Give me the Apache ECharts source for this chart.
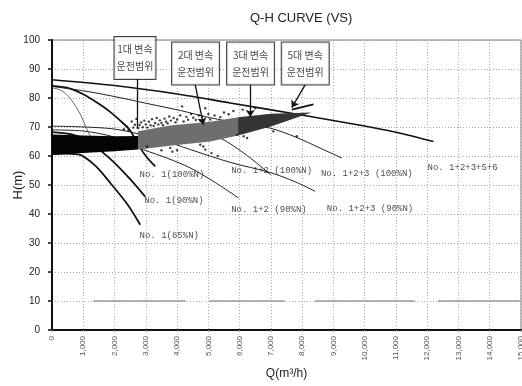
<!DOCTYPE html>
<html><head><meta charset="utf-8">
<script src="https://cdn.jsdelivr.net/npm/echarts@6/dist/echarts.min.js"></script>
<style>html,body{margin:0;padding:0;background:#fff}#c{width:522px;height:386px}</style>
</head><body><div id="c"></div>
<script>
// ---------------- data ----------------
const chartTitle = 'Q-H CURVE (VS)';
const xName = 'Q(m³/h)';
const yName = 'H(m)';

const curveMain      = [[0,86.3],[2000,84.3],[4000,81.4],[5700,78.3],[7940,74.2],[9860,70.6],[11000,68.2],[12200,65]];
const curveNo1_100   = [[0,84.2],[500,83.5],[1000,81.3],[1500,78],[1860,75.2],[2200,72],[2500,68.8],[2750,64],[3000,60],[3300,56.4]];
const curveNo1_90    = [[0,68.2],[600,67.5],[1100,65.5],[1650,61],[2000,57.6],[2500,52],[2980,46]];
const curveNo1_85    = [[0,61],[500,60.8],[900,60.4],[1400,56.5],[1865,50.7],[2400,43.5],[2820,36.3]];
const curveNo12_100  = [[4300,70.5],[5380,66.2],[6200,60.5],[7000,53.5]];
const curveNo12_90   = [[0,69],[1000,68.6],[2000,66.5],[2930,62.2],[3700,59.2],[4420,55.9],[5200,51],[5970,45.5]];
const curveNo123_100 = [[0,84],[1000,82.5],[2000,80.5],[3000,78.2],[4100,75.7],[5060,73.2],[6000,71.3],[6980,69.6],[7800,66.5],[8600,62.6],[9270,59.3]];
const curveNo123_90  = [[0,70.3],[2000,69.3],[3500,65.5],[4430,62.2],[5700,57.8],[6980,54.3],[7800,51],[8420,47.8]];
const curveExtra     = [[0,83.5],[300,82.6],[600,79.6],[900,74.5],[1170,68],[1400,64]];
const topEdge5       = [[7670,76],[8360,77.8]];

const band1 = [[0,60.3],[0,67.4],[1000,67.1],[2000,66.8],[2750,66.9],[2750,62.2],[2000,61.6],[1000,61],[0,60.3]];
const band2 = [[2750,62.2],[2750,68.5],[3780,70.5],[5060,71.8],[5950,73.4],[5950,67.1],[5060,65],[3780,63.5]];
const band3 = [[5950,67.1],[5950,73.4],[7000,74.6],[8300,75],[7000,70.2]];

const scatterPts = [
 [2300,69.2],[2400,70.1],[2450,68.9],[2550,71.9],[2600,69.8],[2650,70.8],[2700,72.8],[2750,69.6],[2800,70.7],
 [2850,71.6],[2900,69.9],[2950,72.2],[3000,70.9],[3050,69.8],[3100,71.8],[3150,70.6],[3200,72.7],[3250,70.4],
 [3300,71.4],[3350,73.1],[3400,70.9],[3450,72.3],[3500,71.4],[3550,70.6],[3600,72.9],[3650,71.8],[3700,71.2],
 [3750,73.6],[3800,72.2],[3890,73.1],[3950,71.6],[4000,72.6],[4100,74],[4160,77.1],[4210,71.9],[4300,73.5],
 [4350,72.5],[4450,74.5],[4520,73.2],[4600,72.4],[4700,74],[4740,72.2],[4800,73.5],[4900,76.5],[5000,74.5],
 [5060,72.6],[5200,74],[5380,73.4],[5500,75],[5650,74.4],[5800,75.5],[6100,76],[6500,76.5],
 [3040,63.3],[3500,62],[3780,62.8],[3850,61.5],[4000,62],[4740,63.9],[4840,63.3],[4900,62.2],[5100,61],
 [5920,67.3],[6130,66.8],[6240,66.2],[7080,68.5],[7830,66.8],[5300,60]
];

const curveLabelText = ['No. 1(100%N)','No. 1(90%N)','No. 1(85%N)','No. 1+2 (100%N)','No. 1+2 (90%N)',
                        'No. 1+2+3 (100%N)','No. 1+2+3 (90%N)','No. 1+2+3+5+6'];
const curveLabelPos  = [[2800,53.5],[2950,44.7],[2800,32.5],[5730,55.1],[5730,41.5],[8600,54],[8790,42],[12010,55.9]];

const boxLine1 = ['1대 변속','2대 변속','3대 변속','5대 변속'];
const boxLine2 = ['운전범위','운전범위','운전범위','운전범위'];
const boxPos   = [[2654,93.8],[4592,91.9],[6351,91.9],[8100,91.9]];
const arrowFrom = [[2730,86.7],[4580,84.6],[6340,84.6],[8100,84.6]];
const arrowTo   = [[2730,69.7],[4840,70.8],[6340,73.5],[7670,76.7]];
const arrowHead = [false,true,true,true];

const hSegments = [[1320,4270],[5030,7450],[8410,11600],[12340,14960]];
const hSegY = 10;

// ---------------- helpers ----------------
const bands = [band1, band2, band3];
const bandFills = ['#050505', '#6e6e6e', '#353535'];

function fmtThousands(v){ return String(v).replace(/\B(?=(\d{3})+(?!\d))/g, ','); }

function lineSeries(name, data, width, color, smooth){
  return { name, type:'line', data, symbol:'none', smooth: smooth === undefined ? 0.3 : smooth,
    lineStyle:{ width, color }, z: 2, silent: true };
}

const chart = echarts.init(document.getElementById('c'));
chart.setOption({
  animation: false,
  backgroundColor: '#fff',
  title: { text: chartTitle, left: 245, top: 7,
    textStyle: { fontFamily: 'Liberation Sans', fontSize: 13, fontWeight: 'normal', color: '#222' } },
  grid: { left: 52, right: 1, top: 40, bottom: 56, show: true, borderColor: '#777', borderWidth: 1,
    containLabel: false, outerBoundsMode: 'none' },
  xAxis: {
    type: 'value', min: 0, max: 15000, interval: 1000,
    name: xName, nameLocation: 'middle', nameGap: 38, nameMoveOverlap: false,
    nameTextStyle: { fontFamily: 'Liberation Sans', fontSize: 12, color: '#222' },
    axisLine: { lineStyle: { color: '#111', width: 2 } },
    axisTick: { show: true, length: 2, lineStyle: { color: '#999' } },
    axisLabel: { rotate: 90, margin: 6, fontSize: 8, color: '#555', fontFamily: 'Liberation Sans',
      formatter: fmtThousands, showMaxLabel: true },
    splitLine: { show: true, lineStyle: { type: [1, 2], color: '#aaa', width: 1 } }
  },
  yAxis: {
    type: 'value', min: 0, max: 100, interval: 10,
    name: yName, nameLocation: 'middle', nameGap: 27, nameMoveOverlap: false,
    nameTextStyle: { fontFamily: 'Liberation Sans', fontSize: 13, color: '#222' },
    axisLine: { show: true, lineStyle: { color: '#111', width: 2 } },
    axisTick: { show: true, length: 4, lineStyle: { color: '#111', width: 1.5 } },
    axisLabel: { fontSize: 10, color: '#222', margin: 12, fontFamily: 'Liberation Sans' },
    splitLine: { show: true, lineStyle: { type: [1, 2], color: '#aaa', width: 1 } }
  },
  series: [
    lineSeries('No.1+2+3+5+6', curveMain, 1.6, '#111'),
    lineSeries('No.1(100%N)', curveNo1_100, 1.8, '#111'),
    lineSeries('No.1(90%N)', curveNo1_90, 1.8, '#111'),
    lineSeries('No.1(85%N)', curveNo1_85, 1.8, '#111'),
    lineSeries('No.1+2(100%N)', curveNo12_100, 1, '#222'),
    lineSeries('No.1+2(90%N)', curveNo12_90, 1, '#222'),
    lineSeries('No.1+2+3(100%N)', curveNo123_100, 1, '#222'),
    lineSeries('No.1+2+3(90%N)', curveNo123_90, 1, '#222'),
    lineSeries('extra', curveExtra, 0.8, '#444'),
    Object.assign(lineSeries('top5', topEdge5, 2, '#111', false), { z: 6 }),
    {
      name: 'bands', type: 'custom', z: 3, silent: true,
      data: bands.map((b) => [b[0][0], b[0][1]]),
      renderItem: function(params, api){
        const pts = bands[params.dataIndex].map(p => api.coord(p));
        return { type: 'polygon', shape: { points: pts }, style: { fill: bandFills[params.dataIndex], stroke: null } };
      }
    },
    {
      name: 'measured', type: 'scatter', data: scatterPts, symbol: 'circle', symbolSize: 2.4,
      itemStyle: { color: '#111' }, z: 4, silent: true
    },
    {
      name: 'curveLabels', type: 'scatter', symbolSize: 0, z: 7, silent: true,
      data: curveLabelPos.map((p, i) => ({ value: p, label: { formatter: curveLabelText[i] } })),
      label: { show: true, position: 'right', distance: 0, fontFamily: 'Liberation Mono', fontSize: 9, color: '#222' }
    },
    {
      name: 'boxes', type: 'scatter', symbolSize: 0, z: 8, silent: true,
      data: boxPos.map((p, i) => ({ value: p, label: { formatter: boxLine1[i] + '\n' + boxLine2[i], width: i === 0 ? 35 : 41 } })),
      label: { show: true, position: 'inside', align: 'center', verticalAlign: 'middle',
        fontFamily: 'Noto Sans CJK KR', fontSize: 10, lineHeight: 17, color: '#111',
        backgroundColor: '#fff', borderColor: '#111', borderWidth: 1, padding: [4, 3, 4, 3] },
      markLine: {
        silent: true, symbolSize: 7, animation: false,
        lineStyle: { color: '#111', width: 1.3, type: 'solid' }, label: { show: false },
        data: arrowFrom.map((a, i) => [
          { coord: a, symbol: 'none' },
          { coord: arrowTo[i], symbol: arrowHead[i] ? 'arrow' : 'none' }
        ])
      }
    },
    {
      name: 'refSegments', type: 'line', data: [], silent: true, z: 1,
      markLine: {
        silent: true, symbol: 'none', animation: false,
        lineStyle: { color: '#999', width: 1.5, type: 'solid' }, label: { show: false },
        data: hSegments.map(s => [{ coord: [s[0], hSegY] }, { coord: [s[1], hSegY] }])
      }
    }
  ]
});
</script></body></html>
